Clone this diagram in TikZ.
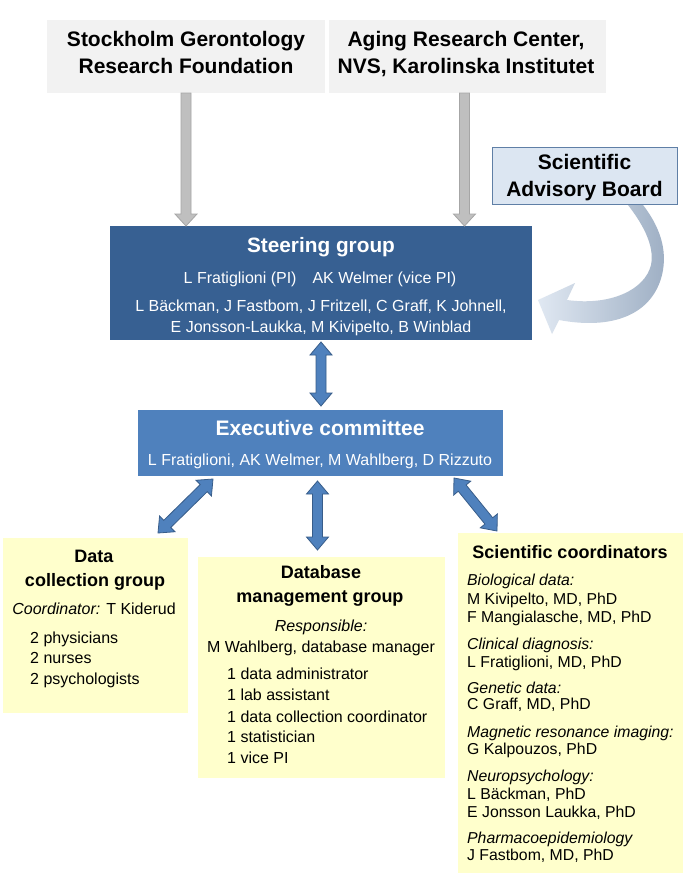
\documentclass[tikz,border=0pt]{standalone}
\usepackage{fontspec}
\setmainfont{Liberation Sans}
\usetikzlibrary{calc}
\definecolor{topgray}{HTML}{F2F2F2}
\definecolor{arrgray}{HTML}{BFBFBF}
\definecolor{arrgrayd}{HTML}{A6A6A6}
\definecolor{steerblue}{HTML}{376092}
\definecolor{execblue}{HTML}{4F81BD}
\definecolor{arrblued}{HTML}{385D8A}
\definecolor{sabfill}{HTML}{DCE6F2}
\definecolor{sabline}{HTML}{5F7FA6}
\definecolor{ylw}{HTML}{FFFFCC}
\definecolor{curvlight}{HTML}{E0E8F2}
\definecolor{curvdark}{HTML}{9DAEC3}
\newcommand{\fsz}[1]{\fontsize{#1}{#1}\selectfont}
\newcommand{\dblarrow}[3]{%
 \path ($(#2)!13pt!(#3)$) coordinate (hpA) ($(#3)!13pt!(#2)$) coordinate (hqA);
 \draw[#1] (#2) -- ($(hpA)!11pt!90:(#3)$) -- ($(hpA)!5pt!90:(#3)$) -- ($(hqA)!5pt!-90:(#2)$) -- ($(hqA)!11pt!-90:(#2)$) -- (#3) -- ($(hqA)!11pt!90:(#2)$) -- ($(hqA)!5pt!90:(#2)$) -- ($(hpA)!5pt!-90:(#3)$) -- ($(hpA)!11pt!-90:(#3)$) -- cycle;}
\newcommand{\sglarrow}[3]{%
 \path ($(#3)!12pt!(#2)$) coordinate (hqB);
 \draw[#1] ($(#2)!5pt!90:(#3)$) -- ($(hqB)!5pt!-90:(#2)$) -- ($(hqB)!11pt!-90:(#2)$) -- (#3) -- ($(hqB)!11pt!90:(#2)$) -- ($(hqB)!5pt!90:(#2)$) -- ($(#2)!5pt!-90:(#3)$) -- cycle;}
\begin{document}
\begin{tikzpicture}[x=1pt,y=-1pt,
  box/.style={inner sep=0pt, outer sep=0pt, draw=none},
  topbox/.style={box, fill=topgray},
  ybox/.style={box, fill=ylw},
  tx/.style={inner sep=0pt, font=\fsz{16}, text height=11.2pt, text depth=0pt},
  sctx/.style={inner sep=0pt, font=\fsz{15.8}, text height=11pt, text depth=0pt},
  hbig/.style={inner sep=0pt, font=\bfseries\fsz{21}, text height=14.7pt, text depth=0pt},
  hmid/.style={inner sep=0pt, font=\bfseries\fsz{18}, text height=12.6pt, text depth=0pt},
  wh/.style={text=white},
  grayarrow/.style={fill=arrgray, draw=arrgrayd, line width=0.8pt},
  bluearrow/.style={fill=execblue, draw=arrblued, line width=0.8pt, line join=miter}]
\useasboundingbox (0,0) rectangle (684,884);
\fill[white] (0,0) rectangle (684,884);

% curved arrow (behind the advisory board box)
\shade[left color=curvlight, right color=curvdark]
  (624,200) -- (639,200)
  .. controls (660,225) and (668,250) .. (662,275)
  .. controls (652,315) and (612,330) .. (559,320)
  -- (552,334) -- (538,300) -- (575,283) -- (567,300)
  .. controls (610,306) and (645,290) .. (651,265)
  .. controls (655,245) and (642,222) .. (624,200) -- cycle;

% boxes
\node[topbox, minimum width=278, minimum height=73] (box1) at (186,56.5) {};
\node[topbox, minimum width=277, minimum height=73] (box2) at (467.5,56.5) {};
\node[box, fill=sabfill, draw=sabline, line width=0.7pt, minimum width=185, minimum height=57] (sab) at (584.5,175.5) {};
\node[box, fill=steerblue, minimum width=422, minimum height=114] (steer) at (321,283) {};
\node[box, fill=execblue, minimum width=365, minimum height=66] (exec) at (320.5,443) {};
\node[ybox, minimum width=185, minimum height=175] (dc) at (95.5,625.5) {};
\node[ybox, minimum width=247, minimum height=221] (db) at (321.5,667.5) {};
\node[ybox, minimum width=225, minimum height=340] (sc) at (570.5,703) {};

% top texts
\node[hbig] (t1a) at (186,39) {Stockholm Gerontology};
\node[hbig] (t1b) at (186,66) {Research Foundation};
\node[hbig] (t2a) at (466,39) {Aging Research Center,};
\node[hbig] (t2b) at (466,66) {NVS, Karolinska Institutet};
\node[hbig] (sa1) at (584.5,162) {Scientific};
\node[hbig] (sa2) at (584.5,189) {Advisory Board};

% steering group
\node[hbig, wh, font=\bfseries\fsz{20.8}] (st0) at (321,245) {Steering group};
\node[tx, wh] (st1) at (320,278) {L Fratiglioni (PI)\hspace{16pt}AK Welmer (vice PI)};
\node[tx, wh] (st2) at (321,306) {L Bäckman, J Fastbom, J Fritzell, C Graff, K Johnell,};
\node[tx, wh] (st3) at (321,327) {E Jonsson-Laukka, M Kivipelto, B Winblad};

% executive committee
\node[hbig, wh] (ex0) at (320,428) {Executive committee};
\node[tx, wh] (ex1) at (320,460) {L Fratiglioni, AK Welmer, M Wahlberg, D Rizzuto};

% data collection group
\node[hmid] (dc0) at (94,556) {Data};
\node[hmid] (dc1) at (95,580) {collection group};
\node[tx] (dc2) at (94,609) {\itshape Coordinator:\upshape{} T Kiderud};
\node[tx, anchor=west] (dc3) at (30,638) {2 physicians};
\node[tx, anchor=west] (dc4) at (30,658) {2 nurses};
\node[tx, anchor=west] (dc5) at (30,679) {2 psychologists};

% database management group
\node[hmid] (db0) at (321,572) {Database};
\node[hmid] (db1) at (320,596) {management group};
\node[tx] (db2) at (321,626) {\itshape Responsible:};
\node[tx] (db3) at (321,647) {M Wahlberg, database manager};
\foreach \yy/\lt in {674/{1 data administrator}, 695/{1 lab assistant}, 717/{1 data collection coordinator}, 737/{1 statistician}, 758/{1 vice PI}}
  \node[tx, anchor=west] (db\yy) at (227,\yy) {\lt};

% scientific coordinators
\node[hmid] (sc0) at (570,552) {Scientific coordinators};
\foreach \yy/\lt in {580/{\itshape Biological data:}, 599/{M Kivipelto, MD, PhD}, 617/{F Mangialasche, MD, PhD},
  644/{\itshape Clinical diagnosis:}, 662/{L Fratiglioni, MD, PhD},
  688/{\itshape Genetic data:}, 704/{C Graff, MD, PhD},
  732/{\itshape Magnetic resonance imaging:}, 749/{G Kalpouzos, PhD},
  776/{\itshape Neuropsychology:}, 794/{L Bäckman, PhD}, 812/{E Jonsson Laukka, PhD},
  838/{\itshape Pharmacoepidemiology}, 855/{J Fastbom, MD, PhD}}
  \node[sctx, anchor=west] (sc\yy) at (467,\yy) {\lt};

% gray arrows
\coordinate (g1s) at (box1.south);
\coordinate (g1e) at (box1.south |- steer.north);
\coordinate (g2s) at ($(box2.south)+(-3,0)$);
\coordinate (g2e) at (g2s |- steer.north);
\sglarrow{grayarrow}{g1s}{g1e}
\sglarrow{grayarrow}{g2s}{g2e}

% blue double arrows
\coordinate (a1s) at ($(steer.south)+(0,2)$);
\coordinate (a1e) at ($(steer.south |- exec.north)+(0,-4)$);
\coordinate (a2s) at ($(exec.south)+(-3,5)$);
\coordinate (a2e) at ($(a2s |- db.north)+(0,-7)$);
\coordinate (a3s) at ($(exec.south west)+(75,3)$);
\coordinate (a3e) at ($(dc.north east)+(-30,-5)$);
\coordinate (a4s) at ($(exec.south east)+(-49,2)$);
\coordinate (a4e) at ($(sc.north west)+(39,-2)$);
\dblarrow{bluearrow}{a1s}{a1e}
\dblarrow{bluearrow}{a2s}{a2e}
\dblarrow{bluearrow}{a3s}{a3e}
\dblarrow{bluearrow}{a4s}{a4e}
\end{tikzpicture}
\end{document}
